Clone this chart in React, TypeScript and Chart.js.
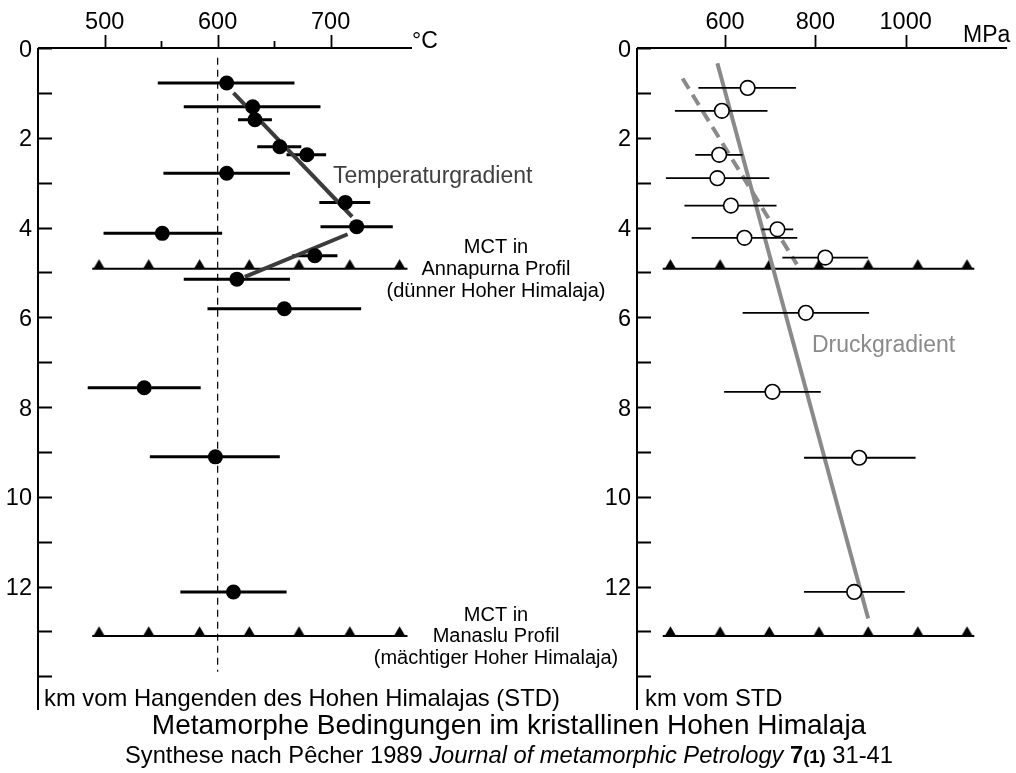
import { useEffect, useRef } from 'react';
import { Chart, registerables } from 'chart.js';

Chart.register(...registerables);

const FONT = '"Liberation Sans", Arial, Helvetica, sans-serif';

// ---------- Left panel: temperature (°C) vs depth (km) ----------
const tempDepthKm = [0.78, 1.31, 1.6, 2.2, 2.38, 2.79, 3.44, 3.98, 4.13, 4.63, 5.15, 5.81, 7.57, 9.11, 12.12];
const tempC = [608, 631, 633, 655, 679, 608, 713, 723, 551, 686, 617, 659, 535, 598, 614];
const tempLowC = [547, 570, 618, 635, 661, 552, 690, 691, 499, 666, 570, 591, 485, 540, 567];
const tempHighC = [668, 691, 648, 674, 696, 664, 735, 755, 604, 706, 664, 727, 585, 655, 661];

const tempGradUpperC = [614, 719];
const tempGradUpperKm = [1.0, 3.76];
const tempGradLowerC = [715, 624];
const tempGradLowerKm = [4.15, 5.1];

const refLineC = [600, 600];
const refLineKm = [0.22, 13.9];

const tempAxisTicks = [500, 600, 700];
const tempAxisMinorTicks = [550, 650];

// ---------- Right panel: pressure (MPa) vs depth (km) ----------
const presDepthKm = [0.89, 1.4, 2.38, 2.9, 3.51, 4.04, 4.23, 4.67, 5.9, 7.66, 9.13, 12.12];
const presMPa = [650, 593, 587, 583, 613, 716, 643, 822, 779, 705, 897, 886];
const presLowMPa = [541, 489, 534, 469, 510, 681, 526, 727, 639, 598, 775, 775];
const presHighMPa = [757, 694, 639, 698, 714, 751, 760, 917, 919, 812, 1022, 998];

const presGradSolidMPa = [583, 917];
const presGradSolidKm = [0.34, 12.71];
const presGradDashedMPa = [506, 759];
const presGradDashedKm = [0.68, 4.82];

const presAxisTicks = [600, 800, 1000];

// ---------- Shared depth axis & MCT thrust lines ----------
const depthTickLabels = [0, 2, 4, 6, 8, 10, 12];
const depthTicks = [0, 1, 2, 3, 4, 5, 6, 7, 8, 9, 10, 11, 12, 13, 14];
const mctDepthKm = [4.92, 13.1];
const tempMctSpanC = [489, 768];
const tempMctTrianglesC = [495, 539, 584, 628, 672, 717, 761];
const presMctSpanMPa = [462, 1152];
const presMctTrianglesMPa = [479, 589, 698, 808, 917, 1027, 1136];

const mctLabelsAnnapurna = ['MCT in', 'Annapurna Profil', '(dünner Hoher Himalaja)'];
const mctLabelsManaslu = ['MCT in', 'Manaslu Profil', '(mächtiger Hoher Himalaja)'];

type P = { x: number; y: number };

function pts(xs: number[], ys: number[]): P[] {
  return xs.map((x, i) => ({ x, y: ys[i] }));
}

function errorBars(depth: number[], lo: number[], hi: number[]): P[] {
  const out: P[] = [];
  depth.forEach((d, i) => {
    out.push({ x: lo[i], y: d }, { x: hi[i], y: d }, { x: NaN, y: NaN });
  });
  return out;
}

function mctLines(span: number[]): P[] {
  const out: P[] = [];
  mctDepthKm.forEach((d) => {
    out.push({ x: span[0], y: d }, { x: span[1], y: d }, { x: NaN, y: NaN });
  });
  return out;
}

function mctTriangles(xs: number[]): P[] {
  const out: P[] = [];
  mctDepthKm.forEach((d) => xs.forEach((x) => out.push({ x, y: d })));
  return out;
}

function makeTriangle(): HTMLCanvasElement {
  const c = document.createElement('canvas');
  c.width = 13;
  c.height = 22;
  const g = c.getContext('2d')!;
  g.fillStyle = '#000';
  g.beginPath();
  g.moveTo(6.5, 1.3);
  g.lineTo(12.2, 11);
  g.lineTo(0.8, 11);
  g.closePath();
  g.fill();
  return c;
}

function axesPlugin(id: string, xMajor: number[], xMinor: number[], yLabelRight: number) {
  return {
    id,
    beforeDatasetsDraw(chart: any) {
      const { ctx, chartArea, scales } = chart;
      const xs = scales.x;
      const ys = scales.y;
      const top = ys.getPixelForValue(0);
      const left = chartArea.left;
      ctx.save();
      ctx.strokeStyle = '#000';
      ctx.lineWidth = 2;
      ctx.beginPath();
      ctx.moveTo(left, top);
      ctx.lineTo(chartArea.right, top);
      ctx.moveTo(left, top);
      ctx.lineTo(left, chartArea.bottom);
      ctx.stroke();
      ctx.lineWidth = 1.8;
      ctx.beginPath();
      xMajor.forEach((v) => {
        const px = Math.round(xs.getPixelForValue(v)) + 0.5;
        ctx.moveTo(px, top);
        ctx.lineTo(px, top - 13);
      });
      xMinor.forEach((v) => {
        const px = Math.round(xs.getPixelForValue(v)) + 0.5;
        ctx.moveTo(px, top);
        ctx.lineTo(px, top - 7);
      });
      depthTicks.forEach((v) => {
        const py = Math.round(ys.getPixelForValue(v)) + 0.5;
        ctx.moveTo(left, py);
        ctx.lineTo(left + 14, py);
      });
      ctx.stroke();
      ctx.fillStyle = '#000';
      ctx.font = `23.5px ${FONT}`;
      ctx.textBaseline = 'alphabetic';
      ctx.textAlign = 'center';
      xMajor.forEach((v) => {
        ctx.fillText(String(v), xs.getPixelForValue(v), 29);
      });
      ctx.textAlign = 'right';
      depthTickLabels.forEach((v) => {
        ctx.fillText(String(v), yLabelRight, ys.getPixelForValue(v) + 8.5);
      });
      ctx.restore();
    },
  };
}

const leftText = {
  id: 'leftText',
  afterDraw(chart: any) {
    const { ctx, scales } = chart;
    ctx.save();
    ctx.textBaseline = 'alphabetic';
    ctx.fillStyle = '#000';
    ctx.font = `23px ${FONT}`;
    ctx.textAlign = 'left';
    ctx.fillText('°C', 412, 48);

    ctx.fillStyle = '#404040';
    ctx.font = `23px ${FONT}`;
    ctx.fillText('Temperaturgradient', 333, 183);

    ctx.fillStyle = '#000';
    ctx.font = `20px ${FONT}`;
    ctx.textAlign = 'center';
    const y1 = scales.y.getPixelForValue(mctDepthKm[0]);
    mctLabelsAnnapurna.forEach((t, i) => ctx.fillText(t, 496, y1 - 16 + i * 22));
    const y2 = scales.y.getPixelForValue(mctDepthKm[1]);
    mctLabelsManaslu.forEach((t, i) => ctx.fillText(t, 496, y2 - 15 + i * 21.5));

    ctx.textAlign = 'left';
    ctx.font = `23.8px ${FONT}`;
    ctx.fillText('km vom Hangenden des Hohen Himalajas (STD)', 44, 706);

    ctx.textAlign = 'center';
    ctx.font = `28px ${FONT}`;
    ctx.fillText('Metamorphe Bedingungen im kristallinen Hohen Himalaja', 509, 734);

    const normal = `23.7px ${FONT}`;
    const segs = [
      { t: 'Synthese nach Pêcher 1989 ', f: normal },
      { t: 'Journal of metamorphic Petrology', f: `italic 23.7px ${FONT}` },
      { t: ' ', f: normal },
      { t: '7', f: `bold 23.7px ${FONT}` },
      { t: '(1)', f: `bold 18.5px ${FONT}` },
      { t: ' 31-41', f: normal },
    ];
    let total = 0;
    segs.forEach((s) => {
      ctx.font = s.f;
      total += ctx.measureText(s.t).width;
    });
    let x = 509 - total / 2;
    ctx.textAlign = 'left';
    segs.forEach((s) => {
      ctx.font = s.f;
      ctx.fillText(s.t, x, 763);
      x += ctx.measureText(s.t).width;
    });
    ctx.restore();
  },
};

const rightText = {
  id: 'rightText',
  afterDraw(chart: any) {
    const { ctx } = chart;
    ctx.save();
    ctx.textBaseline = 'alphabetic';
    ctx.textAlign = 'left';
    ctx.fillStyle = '#000';
    ctx.font = `23px ${FONT}`;
    ctx.fillText('MPa', 963, 42);
    ctx.fillStyle = '#8a8a8a';
    ctx.font = `23px ${FONT}`;
    ctx.fillText('Druckgradient', 812, 352);
    ctx.fillStyle = '#000';
    ctx.font = `23.8px ${FONT}`;
    ctx.fillText('km vom STD', 645, 706);
    ctx.restore();
  },
};

function baseOptions(padding: any, xMin: number, xMax: number) {
  return {
    responsive: false,
    animation: false,
    devicePixelRatio: 1,
    events: [],
    layout: { padding },
    plugins: {
      legend: { display: false },
      tooltip: { enabled: false },
      title: { display: false },
    },
    scales: {
      x: { type: 'linear', min: xMin, max: xMax, display: false },
      y: { type: 'linear', min: 0, max: 14.75, reverse: true, display: false },
    },
  };
}

function leftConfig(tri: HTMLCanvasElement): any {
  return {
    type: 'scatter',
    data: {
      datasets: [
        {
          data: pts(tempC, tempDepthKm),
          pointRadius: 7.5,
          pointBackgroundColor: '#000',
          pointBorderColor: '#000',
          pointBorderWidth: 0,
        },
        {
          data: pts(tempGradUpperC, tempGradUpperKm),
          showLine: true,
          borderColor: '#3c3c3c',
          borderWidth: 4,
          pointRadius: 0,
        },
        {
          data: pts(tempGradLowerC, tempGradLowerKm),
          showLine: true,
          borderColor: '#3c3c3c',
          borderWidth: 4,
          pointRadius: 0,
        },
        {
          data: errorBars(tempDepthKm, tempLowC, tempHighC),
          showLine: true,
          borderColor: '#000',
          borderWidth: 3,
          pointRadius: 0,
          spanGaps: false,
        },
        {
          data: mctTriangles(tempMctTrianglesC),
          pointStyle: tri,
          pointRadius: 6,
        },
        {
          data: mctLines(tempMctSpanC),
          showLine: true,
          borderColor: '#000',
          borderWidth: 2,
          pointRadius: 0,
          spanGaps: false,
        },
        {
          data: pts(refLineC, refLineKm),
          showLine: true,
          borderColor: '#000',
          borderWidth: 1.2,
          borderDash: [7, 5],
          pointRadius: 0,
        },
      ],
    },
    options: baseOptions({ left: 38, top: 48, right: 604, bottom: 63 }, 441, 772),
    plugins: [axesPlugin('leftAxes', tempAxisTicks, tempAxisMinorTicks, 32), leftText],
  };
}

function rightConfig(tri: HTMLCanvasElement): any {
  return {
    type: 'scatter',
    data: {
      datasets: [
        {
          data: pts(presMPa, presDepthKm),
          pointRadius: 7.3,
          pointBackgroundColor: '#fff',
          pointBorderColor: '#000',
          pointBorderWidth: 1.6,
        },
        {
          data: errorBars(presDepthKm, presLowMPa, presHighMPa),
          showLine: true,
          borderColor: '#000',
          borderWidth: 1.8,
          pointRadius: 0,
          spanGaps: false,
        },
        {
          data: pts(presGradSolidMPa, presGradSolidKm),
          showLine: true,
          borderColor: '#8a8a8a',
          borderWidth: 4,
          pointRadius: 0,
        },
        {
          data: pts(presGradDashedMPa, presGradDashedKm),
          showLine: true,
          borderColor: '#8a8a8a',
          borderWidth: 4,
          borderDash: [12, 7],
          pointRadius: 0,
        },
        {
          data: mctTriangles(presMctTrianglesMPa),
          pointStyle: tri,
          pointRadius: 6,
        },
        {
          data: mctLines(presMctSpanMPa),
          showLine: true,
          borderColor: '#000',
          borderWidth: 2,
          pointRadius: 0,
          spanGaps: false,
        },
      ],
    },
    options: baseOptions({ left: 637, top: 48, right: 4, bottom: 63 }, 405, 1224.7),
    plugins: [axesPlugin('rightAxes', presAxisTicks, [], 631), rightText],
  };
}

export default function App() {
  const leftRef = useRef<HTMLCanvasElement>(null);
  const rightRef = useRef<HTMLCanvasElement>(null);

  useEffect(() => {
    const tri = makeTriangle();
    const l = new Chart(leftRef.current!, leftConfig(tri));
    const r = new Chart(rightRef.current!, rightConfig(tri));
    return () => {
      l.destroy();
      r.destroy();
    };
  }, []);

  return (
    <div style={{ position: 'absolute', left: 0, top: 0, width: 1016, height: 773, background: '#fff', overflow: 'hidden' }}>
      <canvas ref={leftRef} width={1016} height={773} style={{ position: 'absolute', left: 0, top: 0 }} />
      <canvas ref={rightRef} width={1016} height={773} style={{ position: 'absolute', left: 0, top: 0 }} />
    </div>
  );
}
